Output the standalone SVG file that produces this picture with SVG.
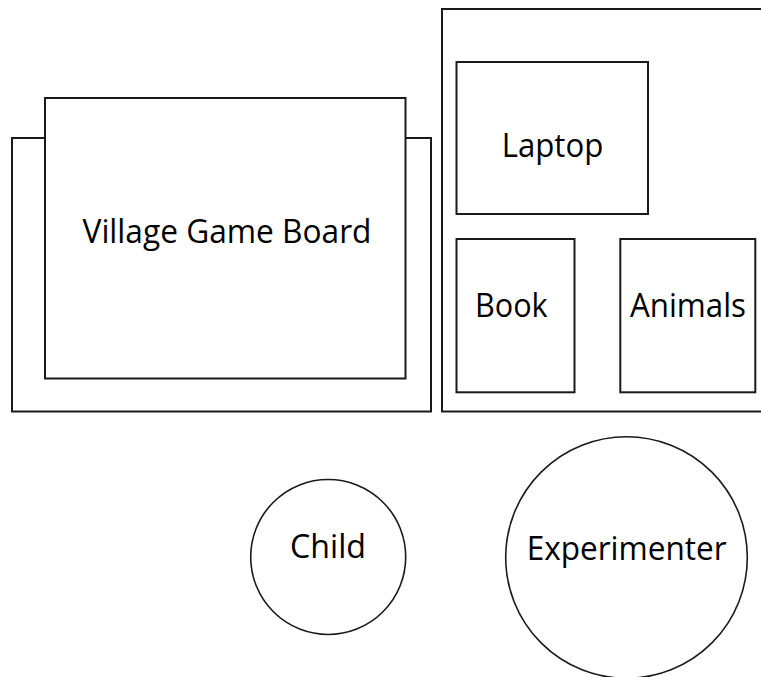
<svg xmlns="http://www.w3.org/2000/svg" width="761" height="677" viewBox="0 0 761 677">
<style>
.box{fill:#ffffff;stroke:#1a1a1a;stroke-width:2}
.circ{fill:#ffffff;stroke:#1a1a1a;stroke-width:1.6}
.lbl{font-family:"Open Sans","Noto Sans",sans-serif;font-size:33px;fill:#000000;text-anchor:middle}
</style>
<rect width="761" height="677" fill="#ffffff"/>
<g id="board">
<rect class="box" x="12" y="138" width="419" height="273.5"/>
<rect class="box" x="45" y="98" width="360.5" height="280.5"/>
<text class="lbl" x="227" y="242.5" textLength="289" lengthAdjust="spacingAndGlyphs">Village Game Board</text>
</g>
<g id="table">
<rect class="box" x="442" y="9" width="322" height="402.5"/>
</g>
<g id="laptop">
<rect class="box" x="456.5" y="62" width="191.5" height="152"/>
<text class="lbl" x="552.5" y="156.7" textLength="101.6" lengthAdjust="spacingAndGlyphs">Laptop</text>
</g>
<g id="book">
<rect class="box" x="456.5" y="239" width="118" height="153.3"/>
<text class="lbl" x="511.3" y="316.7" textLength="72.7" lengthAdjust="spacingAndGlyphs">Book</text>
</g>
<g id="animals">
<rect class="box" x="620.3" y="239" width="135" height="153.3"/>
<text class="lbl" x="688" y="316.7" textLength="116" lengthAdjust="spacingAndGlyphs">Animals</text>
</g>
<g id="child">
<circle class="circ" cx="328.2" cy="557" r="77.5"/>
<text class="lbl" x="328" y="558" textLength="76" lengthAdjust="spacingAndGlyphs">Child</text>
</g>
<g id="experimenter">
<circle class="circ" cx="626.5" cy="557.5" r="120.8"/>
<text class="lbl" x="626.7" y="560" textLength="200" lengthAdjust="spacingAndGlyphs">Experimenter</text>
</g>
<g id="connectors"></g>
</svg>
